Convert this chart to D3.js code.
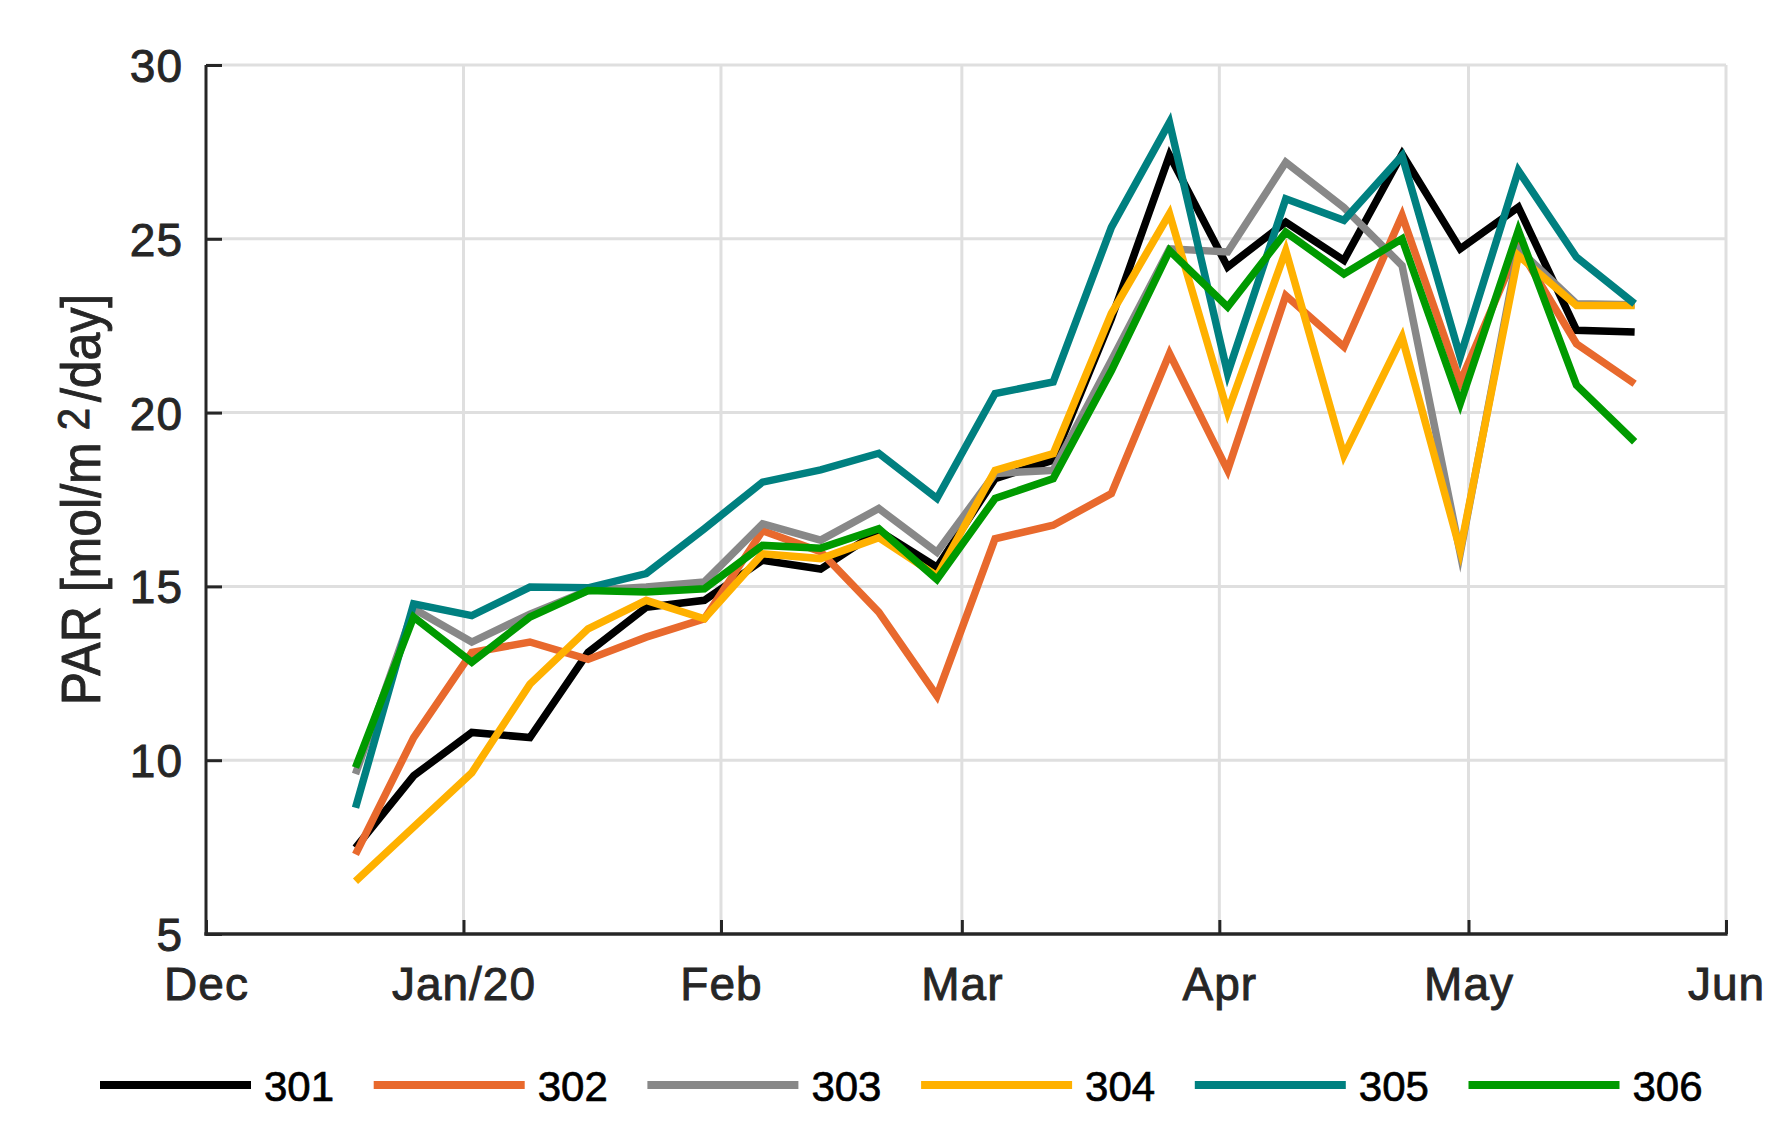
<!DOCTYPE html>
<html>
<head>
<meta charset="utf-8">
<script src="https://cdn.jsdelivr.net/npm/d3@7"></script>
<style>
  html, body { margin: 0; padding: 0; background: #fff; }
  svg { display: block; }
  text { font-family: "Liberation Sans", Arial, Helvetica, sans-serif; }
</style>
</head>
<body>
<svg id="chart" width="1788" height="1148"></svg>
<script>
// ---------------- data ----------------
const dates = [
  "2019-12-19","2019-12-26","2020-01-02","2020-01-09","2020-01-16","2020-01-23",
  "2020-01-30","2020-02-06","2020-02-13","2020-02-20","2020-02-27","2020-03-05",
  "2020-03-12","2020-03-19","2020-03-26","2020-04-02","2020-04-09","2020-04-16",
  "2020-04-23","2020-04-30","2020-05-07","2020-05-14","2020-05-21"
];
const seriesNames = ["301","302","303","304","305","306"];
const s301 = [7.48, 9.55, 10.8, 10.65, 13.1, 14.4, 14.6, 15.75, 15.5, 16.6, 15.55, 18.1, 18.63, 22.7, 27.4, 24.19, 25.48, 24.38, 27.44, 24.71, 25.91, 22.37, 22.32];
const s302 = [7.29, 10.65, 13.1, 13.4, 12.9, 13.54, 14.07, 16.6, 16.0, 14.26, 11.85, 16.37, 16.76, 17.67, 21.7, 18.34, 23.37, 21.89, 25.67, 20.88, 24.76, 21.98, 20.83];
const s303 = [9.6, 14.36, 13.4, 14.2, 14.88, 14.98, 15.13, 16.8, 16.33, 17.24, 15.98, 18.25, 18.34, 21.5, 24.71, 24.62, 27.2, 25.9, 24.23, 15.95, 24.71, 23.13, 23.1];
const s304 = [6.52, 8.08, 9.64, 12.19, 13.78, 14.6, 14.07, 15.94, 15.8, 16.4, 15.3, 18.34, 18.82, 22.85, 25.72, 20.02, 24.66, 18.77, 22.17, 16.04, 24.52, 23.08, 23.08];
const s305 = [8.63, 14.5, 14.16, 14.98, 14.96, 15.37, 16.66, 18.0, 18.35, 18.83, 17.53, 20.55, 20.88, 25.33, 28.35, 21.12, 26.15, 25.53, 27.39, 21.6, 26.96, 24.47, 23.13];
const s306 = [9.79, 14.12, 12.82, 14.12, 14.88, 14.84, 14.93, 16.18, 16.1, 16.66, 15.2, 17.53, 18.1, 21.2, 24.66, 23.04, 25.19, 23.99, 25.0, 20.26, 25.24, 20.79, 19.16];
const seriesValues = [s301, s302, s303, s304, s305, s306];
const seriesColors = ["#000000", "#e8692d", "#888888", "#ffb100", "#008080", "#009a00"];

const xTickDates = ["2019-12-01","2020-01-01","2020-02-01","2020-03-01","2020-04-01","2020-05-01","2020-06-01"];
const xTickLabels = ["Dec","Jan/20","Feb","Mar","Apr","May","Jun"];
const yTicks = [5, 10, 15, 20, 25, 30];
const yLabelMain = "PAR [mol/m";
const yLabelSup = "2";
const yLabelEnd = "/day]";

// ---------------- layout ----------------
const svg = d3.select("#chart");
const mLeft = 206, mRight = 1726, mTop = 65, mBottom = 934;
const parse = d3.utcParse("%Y-%m-%d");

const x = d3.scaleUtc()
  .domain([parse(xTickDates[0]), parse(xTickDates[xTickDates.length - 1])])
  .range([mLeft, mRight]);
const y = d3.scaleLinear().domain([5, 30]).range([mBottom, mTop]);

const axisColor = "#262626";
const gridColor = "#dfdfdf";

// grid
const grid = svg.append("g");
grid.selectAll("line.gx").data(xTickDates.slice(1)).join("line")
  .attr("x1", d => x(parse(d))).attr("x2", d => x(parse(d)))
  .attr("y1", mTop).attr("y2", mBottom)
  .attr("stroke", gridColor).attr("stroke-width", 3);
grid.selectAll("line.gy").data(yTicks.slice(1)).join("line")
  .attr("x1", mLeft).attr("x2", mRight)
  .attr("y1", d => y(d)).attr("y2", d => y(d))
  .attr("stroke", gridColor).attr("stroke-width", 3);

// series lines
const line = d3.line()
  .x((d, i) => x(parse(dates[i])))
  .y(d => y(d))
  .curve(d3.curveLinear);

svg.append("g").selectAll("path").data(seriesValues).join("path")
  .attr("d", d => line(d))
  .attr("fill", "none")
  .attr("stroke", (d, i) => seriesColors[i])
  .attr("stroke-width", 7.5)
  .attr("stroke-linejoin", "miter")
  .attr("stroke-miterlimit", 10)
  .attr("stroke-linecap", "butt");

// axes (left & bottom only, inward ticks)
const xAxis = d3.axisBottom(x)
  .tickValues(xTickDates.map(parse))
  .tickFormat((d, i) => xTickLabels[i])
  .tickSizeInner(-14).tickSizeOuter(0).tickPadding(0);
const gx = svg.append("g").attr("transform", `translate(0,${mBottom})`).call(xAxis);
gx.select(".domain").attr("stroke", axisColor).attr("stroke-width", 3.3)
  .attr("d", `M${mLeft - 1.6},0H${mRight + 1.6}`);
gx.selectAll(".tick line").attr("stroke", axisColor).attr("stroke-width", 3);
gx.selectAll(".tick text")
  .attr("fill", axisColor).attr("stroke", axisColor).attr("stroke-width", 0.9)
  .attr("font-size", 46).attr("letter-spacing", 1)
  .attr("dy", null).attr("y", 66);

const yAxis = d3.axisLeft(y)
  .tickValues(yTicks)
  .tickFormat(d3.format("d"))
  .tickSizeInner(-16).tickSizeOuter(0).tickPadding(0);
const gy = svg.append("g").attr("transform", `translate(${mLeft},0)`).call(yAxis);
gy.select(".domain").attr("stroke", axisColor).attr("stroke-width", 3)
  .attr("d", `M0,${mTop}V${mBottom + 1.6}`);
gy.selectAll(".tick line").attr("stroke", axisColor).attr("stroke-width", 3);
gy.selectAll(".tick text")
  .attr("fill", axisColor).attr("stroke", axisColor).attr("stroke-width", 0.9)
  .attr("font-size", 46).attr("letter-spacing", 1)
  .attr("x", -23).attr("dy", "0.36em");

// y label
const yl = svg.append("text")
  .attr("transform", `translate(100,${(mTop + mBottom) / 2}) rotate(-90) scale(1,1.1)`)
  .attr("text-anchor", "middle")
  .attr("fill", axisColor).attr("stroke", axisColor).attr("stroke-width", 0.8)
  .attr("font-size", 50);
yl.append("tspan").text(yLabelMain);
yl.append("tspan").attr("dx", 12).attr("dy", -10).attr("font-size", 40).text(yLabelSup);
yl.append("tspan").attr("dx", 6).attr("dy", 10).text(yLabelEnd);

// legend
const legend = svg.append("g");
const legX0 = 100, legStep = 273.7, legY = 1085;
const items = legend.selectAll("g").data(seriesNames).join("g")
  .attr("transform", (d, i) => `translate(${legX0 + i * legStep},${legY})`);
items.append("line")
  .attr("x1", 0).attr("x2", 151).attr("y1", 0).attr("y2", 0)
  .attr("stroke", (d, i) => seriesColors[i]).attr("stroke-width", 8);
items.append("text")
  .attr("x", 164).attr("y", 16)
  .attr("font-size", 42).attr("fill", "#000").attr("stroke", "#000").attr("stroke-width", 0.7)
  .text(d => d);
</script>
</body>
</html>
